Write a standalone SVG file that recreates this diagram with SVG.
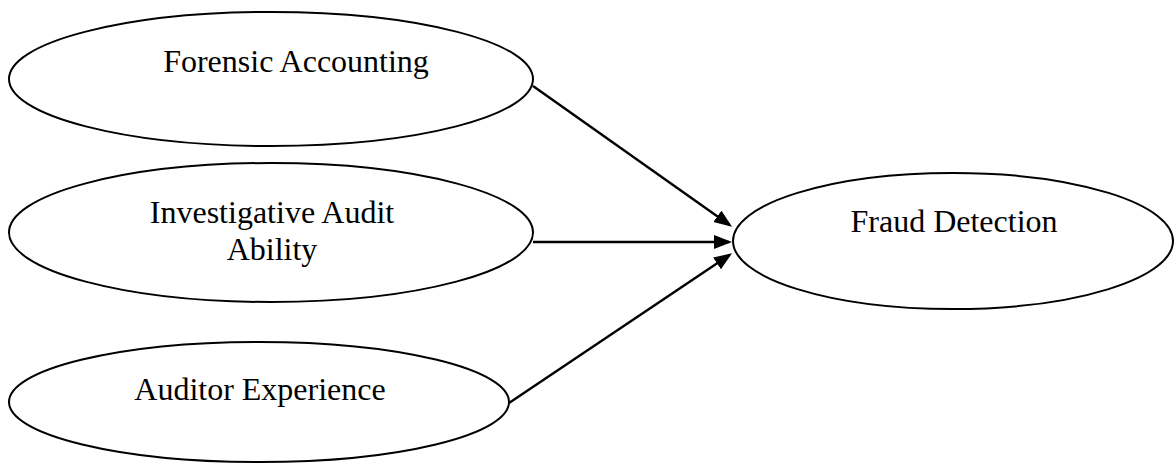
<svg xmlns="http://www.w3.org/2000/svg" width="1176" height="464" viewBox="0 0 1176 464">
  <style>
    .node ellipse { fill: #ffffff; stroke: #000000; stroke-width: 2; }
    .node text { font-family: "Liberation Serif", "Times New Roman", serif; font-size: 32px; fill: #000000; text-anchor: middle; }
    .edge { stroke: #000000; stroke-width: 2.4; fill: none; marker-end: url(#arrow); }
  </style>
  <defs>
    <marker id="arrow" markerUnits="userSpaceOnUse" markerWidth="19" markerHeight="15" refX="15" refY="7" orient="auto">
      <path d="M0,0 L18,7 L0,14 z" fill="#000000"/>
    </marker>
  </defs>
  <rect width="1176" height="464" fill="#ffffff"/>

  <g id="node-forensic" class="node">
    <ellipse cx="271" cy="79" rx="262" ry="67"/>
    <text x="296" y="72">Forensic Accounting</text>
  </g>

  <g id="node-investigative" class="node">
    <ellipse cx="271" cy="232.5" rx="262" ry="69.5"/>
    <text x="272" y="223">Investigative Audit</text>
    <text x="272" y="260">Ability</text>
  </g>

  <g id="node-experience" class="node">
    <ellipse cx="259" cy="402" rx="250" ry="60"/>
    <text x="260" y="400">Auditor Experience</text>
  </g>

  <g id="node-fraud" class="node">
    <ellipse cx="953" cy="241" rx="220" ry="68"/>
    <text x="954" y="232">Fraud Detection</text>
  </g>

  <g id="connectors">
    <line class="edge" x1="533" y1="86" x2="729.6" y2="225"/>
    <line class="edge" x1="533" y1="242" x2="729" y2="242"/>
    <line class="edge" x1="509" y1="403" x2="729.5" y2="255"/>
  </g>
</svg>
